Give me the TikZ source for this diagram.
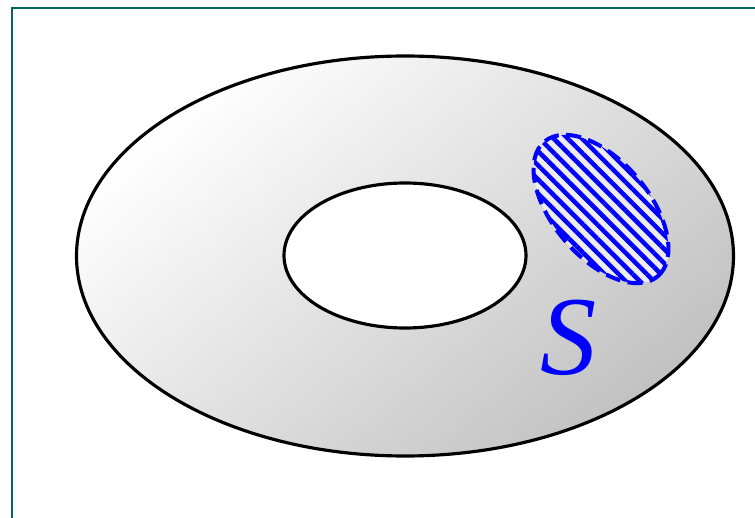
\documentclass[tikz,border=0pt]{standalone}
\usepackage{amsmath}
\usepackage{fontspec}
\usetikzlibrary{patterns.meta}

\newfontfamily\labelfont{Liberation Serif}
\definecolor{frameteal}{RGB}{0,102,102}

\begin{document}
\begin{tikzpicture}[x=0.02cm, y=0.02cm,
		bound/.style={line width=1.8pt, black},
		region/.style={line width=2.3pt, blue, dash pattern=on 0.3cm off 0.15cm},
		hatch/.style={pattern={Lines[angle=-45, distance=0.2cm, line width=0.09cm]}, pattern color=blue}]
		\useasboundingbox (0, 0) rectangle (755, 518);

		\coordinate (O) at (405, 262);
		\coordinate (H) at (405, 262.5);
		\coordinate (B) at (601, 309);

		% frame
		\draw[frameteal, line width=1.2pt] (12, 0) -- (12, 510) -- (755, 510);

		% annulus
		\shade[even odd rule, top color=white, bottom color=black!24, shading angle=40]
			(O) ellipse (328.5 and 200) (H) ellipse (121 and 72.5);
		\draw[bound] (O) ellipse (328.5 and 200);
		\draw[bound] (H) ellipse (121 and 72.5);

		% hatched subset
		\fill[black!7, rotate around={-50:(B)}] (B) ellipse (88 and 48);
		\fill[hatch, rotate around={-50:(B)}] (B) ellipse (88 and 48);
		\draw[region, rotate around={-50:(B)}] (B) ellipse (88 and 48);

		\node[blue] (S) at (569, 180) {\labelfont\itshape\fontsize{64}{70}\selectfont S};
	\end{tikzpicture}
\end{document}
